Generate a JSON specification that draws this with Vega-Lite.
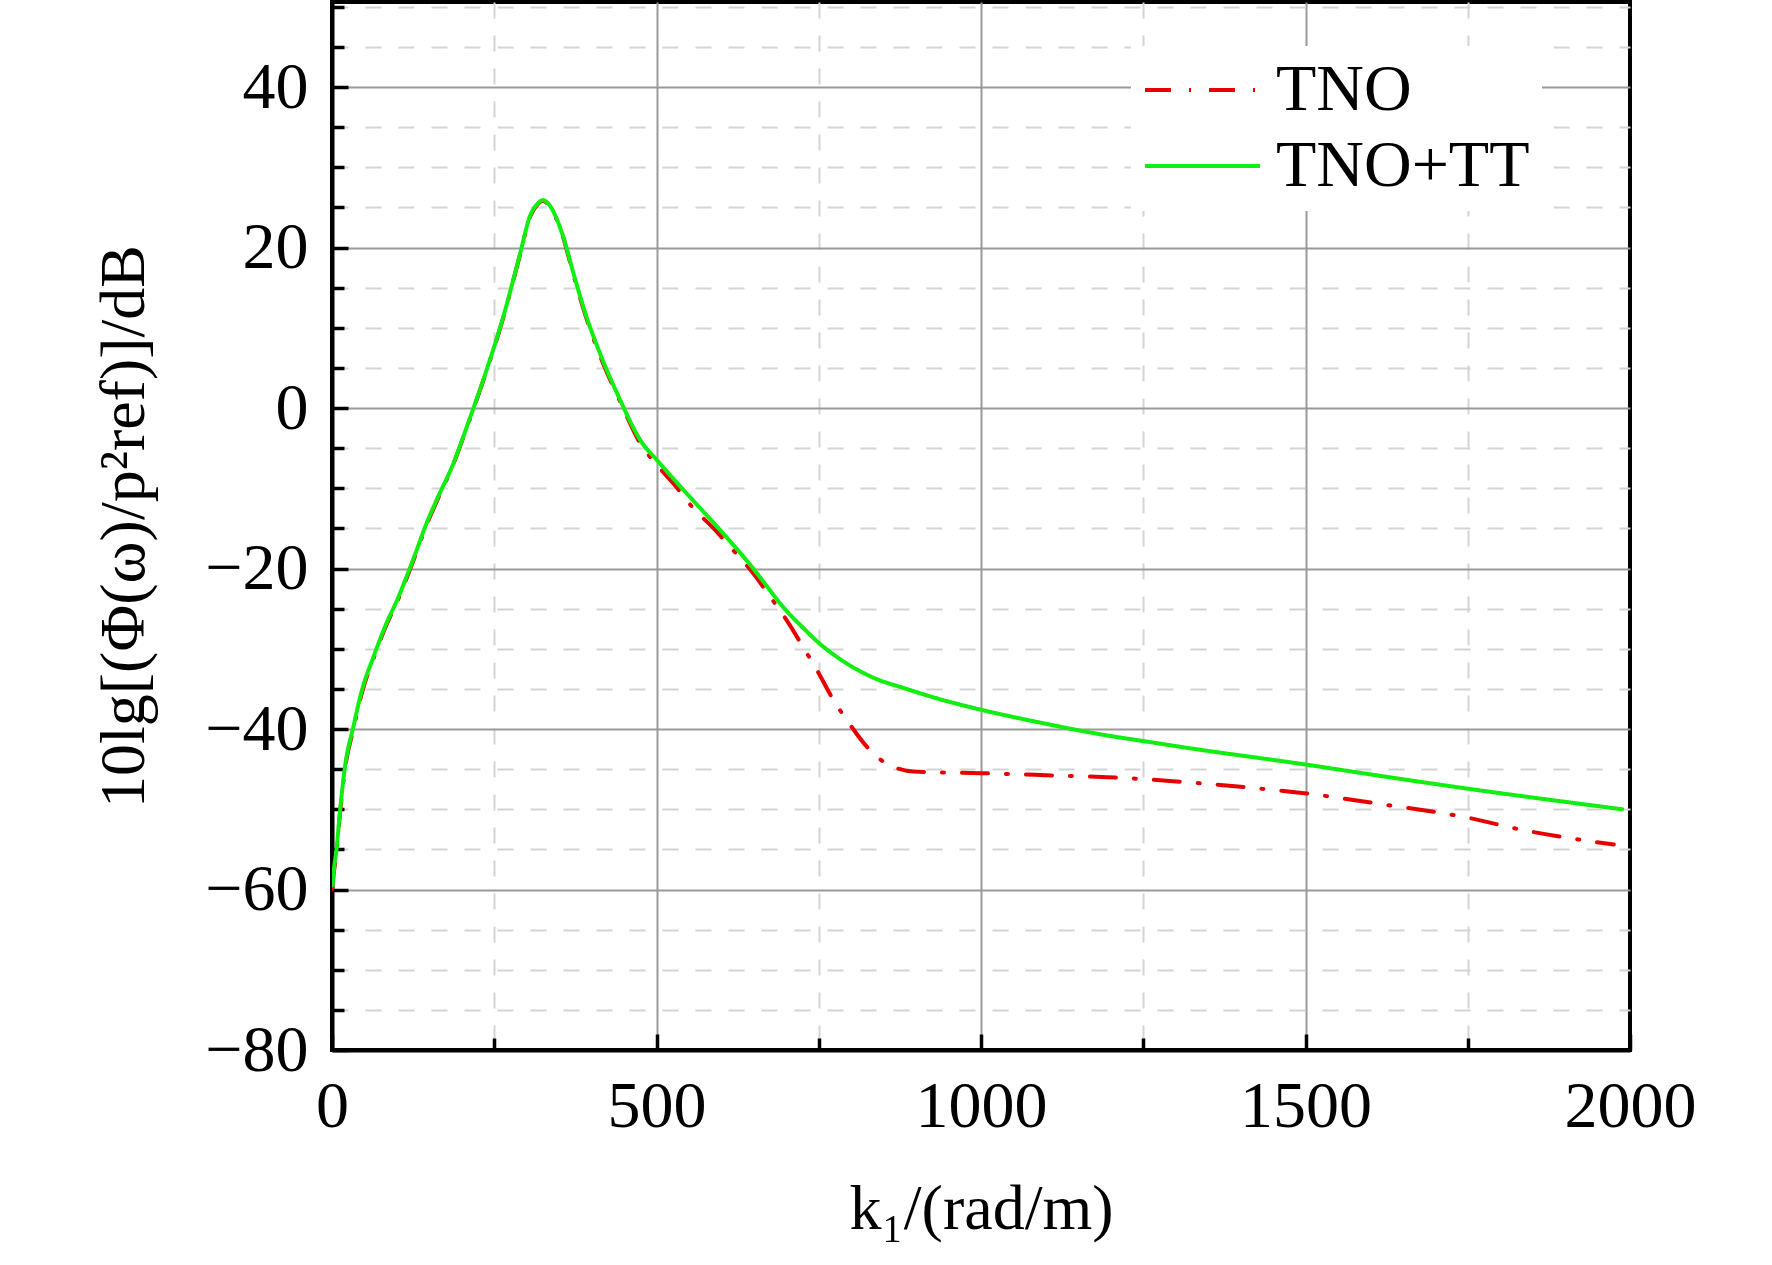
{
  "$schema": "https://vega.github.io/schema/vega-lite/v6.json",
  "autosize": {"type": "none"},
  "padding": {"left": 332, "top": 2, "right": 142, "bottom": 215},
  "width": 1298,
  "height": 1048,
  "background": "white",
  "config": {
    "view": {"stroke": "black", "strokeWidth": 4},
    "axis": {
      "labelFont": "Liberation Serif",
      "labelFontSize": 66,
      "labelColor": "black",
      "titleFont": "Liberation Serif",
      "titleFontSize": 64,
      "titleFontWeight": "normal",
      "titleColor": "black",
      "domainColor": "black",
      "domainWidth": 4,
      "tickColor": "black",
      "tickWidth": 3.5,
      "labelOverlap": false,
      "labelFlush": false
    }
  },
  "data": {
    "values": [
      {"series": "TNO", "k": 0, "v": -60.0},
      {"series": "TNO", "k": 3, "v": -57.8},
      {"series": "TNO", "k": 7, "v": -55.3},
      {"series": "TNO", "k": 12, "v": -50.8},
      {"series": "TNO", "k": 20, "v": -45.0},
      {"series": "TNO", "k": 33, "v": -40.0},
      {"series": "TNO", "k": 46, "v": -35.5},
      {"series": "TNO", "k": 64, "v": -31.2},
      {"series": "TNO", "k": 84, "v": -27.0},
      {"series": "TNO", "k": 100, "v": -24.2},
      {"series": "TNO", "k": 115, "v": -21.2},
      {"series": "TNO", "k": 130, "v": -18.0},
      {"series": "TNO", "k": 145, "v": -14.7},
      {"series": "TNO", "k": 161, "v": -11.7},
      {"series": "TNO", "k": 187, "v": -7.0},
      {"series": "TNO", "k": 203, "v": -3.5},
      {"series": "TNO", "k": 218, "v": -0.1},
      {"series": "TNO", "k": 238, "v": 4.6},
      {"series": "TNO", "k": 264, "v": 11.3},
      {"series": "TNO", "k": 290, "v": 19.2},
      {"series": "TNO", "k": 305, "v": 23.8},
      {"series": "TNO", "k": 316, "v": 25.3},
      {"series": "TNO", "k": 325, "v": 25.8},
      {"series": "TNO", "k": 333, "v": 25.4},
      {"series": "TNO", "k": 341, "v": 24.4},
      {"series": "TNO", "k": 356, "v": 21.3},
      {"series": "TNO", "k": 372, "v": 16.6},
      {"series": "TNO", "k": 392, "v": 11.2},
      {"series": "TNO", "k": 413, "v": 6.5},
      {"series": "TNO", "k": 444, "v": 0.8},
      {"series": "TNO", "k": 475, "v": -4.4},
      {"series": "TNO", "k": 503, "v": -7.3},
      {"series": "TNO", "k": 526, "v": -9.4},
      {"series": "TNO", "k": 557, "v": -12.5},
      {"series": "TNO", "k": 588, "v": -15.0},
      {"series": "TNO", "k": 618, "v": -17.7},
      {"series": "TNO", "k": 649, "v": -20.6},
      {"series": "TNO", "k": 675, "v": -23.5},
      {"series": "TNO", "k": 701, "v": -26.5},
      {"series": "TNO", "k": 726, "v": -29.8},
      {"series": "TNO", "k": 749, "v": -32.9},
      {"series": "TNO", "k": 772, "v": -36.3},
      {"series": "TNO", "k": 796, "v": -39.2},
      {"series": "TNO", "k": 824, "v": -42.2},
      {"series": "TNO", "k": 845, "v": -43.8},
      {"series": "TNO", "k": 862, "v": -44.6},
      {"series": "TNO", "k": 896, "v": -45.3},
      {"series": "TNO", "k": 1000, "v": -45.5},
      {"series": "TNO", "k": 1117, "v": -45.8},
      {"series": "TNO", "k": 1194, "v": -46.0},
      {"series": "TNO", "k": 1296, "v": -46.5},
      {"series": "TNO", "k": 1400, "v": -47.2},
      {"series": "TNO", "k": 1498, "v": -48.0},
      {"series": "TNO", "k": 1620, "v": -49.4},
      {"series": "TNO", "k": 1747, "v": -51.0},
      {"series": "TNO", "k": 1836, "v": -52.6},
      {"series": "TNO", "k": 1975, "v": -54.4},
      {"series": "TNO+TT", "k": 1, "v": -59.5},
      {"series": "TNO+TT", "k": 3, "v": -57.5},
      {"series": "TNO+TT", "k": 7, "v": -55.0},
      {"series": "TNO+TT", "k": 12, "v": -50.5},
      {"series": "TNO+TT", "k": 20, "v": -44.7},
      {"series": "TNO+TT", "k": 33, "v": -39.7},
      {"series": "TNO+TT", "k": 46, "v": -35.2},
      {"series": "TNO+TT", "k": 64, "v": -31.0},
      {"series": "TNO+TT", "k": 84, "v": -26.8},
      {"series": "TNO+TT", "k": 100, "v": -24.0},
      {"series": "TNO+TT", "k": 115, "v": -21.0},
      {"series": "TNO+TT", "k": 130, "v": -17.8},
      {"series": "TNO+TT", "k": 145, "v": -14.5},
      {"series": "TNO+TT", "k": 161, "v": -11.5},
      {"series": "TNO+TT", "k": 187, "v": -6.9},
      {"series": "TNO+TT", "k": 203, "v": -3.4},
      {"series": "TNO+TT", "k": 218, "v": 0.0},
      {"series": "TNO+TT", "k": 238, "v": 4.7},
      {"series": "TNO+TT", "k": 264, "v": 11.4},
      {"series": "TNO+TT", "k": 290, "v": 19.3},
      {"series": "TNO+TT", "k": 305, "v": 23.9},
      {"series": "TNO+TT", "k": 316, "v": 25.4},
      {"series": "TNO+TT", "k": 325, "v": 25.9},
      {"series": "TNO+TT", "k": 333, "v": 25.5},
      {"series": "TNO+TT", "k": 341, "v": 24.5},
      {"series": "TNO+TT", "k": 356, "v": 21.4},
      {"series": "TNO+TT", "k": 372, "v": 16.8},
      {"series": "TNO+TT", "k": 392, "v": 11.4},
      {"series": "TNO+TT", "k": 413, "v": 6.8},
      {"series": "TNO+TT", "k": 444, "v": 1.0},
      {"series": "TNO+TT", "k": 475, "v": -4.0},
      {"series": "TNO+TT", "k": 503, "v": -6.7},
      {"series": "TNO+TT", "k": 546, "v": -10.6},
      {"series": "TNO+TT", "k": 598, "v": -15.2},
      {"series": "TNO+TT", "k": 649, "v": -20.0},
      {"series": "TNO+TT", "k": 670, "v": -22.2},
      {"series": "TNO+TT", "k": 690, "v": -24.3},
      {"series": "TNO+TT", "k": 705, "v": -25.7},
      {"series": "TNO+TT", "k": 721, "v": -27.0},
      {"series": "TNO+TT", "k": 752, "v": -29.4},
      {"series": "TNO+TT", "k": 783, "v": -31.3},
      {"series": "TNO+TT", "k": 834, "v": -33.6},
      {"series": "TNO+TT", "k": 885, "v": -35.0},
      {"series": "TNO+TT", "k": 937, "v": -36.3},
      {"series": "TNO+TT", "k": 1000, "v": -37.6},
      {"series": "TNO+TT", "k": 1091, "v": -39.2},
      {"series": "TNO+TT", "k": 1194, "v": -40.8},
      {"series": "TNO+TT", "k": 1250, "v": -41.5},
      {"series": "TNO+TT", "k": 1322, "v": -42.4},
      {"series": "TNO+TT", "k": 1498, "v": -44.4},
      {"series": "TNO+TT", "k": 1620, "v": -45.9},
      {"series": "TNO+TT", "k": 1747, "v": -47.4},
      {"series": "TNO+TT", "k": 1988, "v": -50.0}
    ]
  },
  "mark": {"type": "line", "strokeWidth": 4, "interpolate": "monotone", "strokeCap": "round", "clip": true},
  "encoding": {
    "x": {
      "field": "k",
      "type": "quantitative",
      "scale": {"domain": [0, 2000], "nice": false, "zero": false},
      "axis": {
        "title": "k₁/(rad/m)",
        "values": [0, 250, 500, 750, 1000, 1250, 1500, 1750, 2000],
        "format": "d",
        "labelExpr": "datum.value % 500 === 0 ? datum.label : ''",
        "labelPadding": 40,
        "titlePadding": 34,
        "tickSize": {"condition": {"test": "datum.value % 500 === 0", "value": -16}, "value": -12},
        "grid": true,
        "gridColor": {"condition": {"test": "datum.value % 500 === 0", "value": "#9a9a9a"}, "value": "#d4d4d4"},
        "gridDash": {"condition": {"test": "datum.value % 500 === 0", "value": []}, "value": [16, 17]},
        "gridWidth": 2,
        "gridOpacity": {"condition": {"test": "datum.value === 2000 || datum.value === 0", "value": 0}, "value": 1}
      }
    },
    "y": {
      "field": "v",
      "type": "quantitative",
      "scale": {"domain": [-80, 50.6], "nice": false, "zero": false},
      "axis": {
        "title": "10lg[(Φ(ω)/p²ref)]/dB",
        "values": [-80, -75, -70, -65, -60, -55, -50, -45, -40, -35, -30, -25, -20, -15, -10, -5, 0, 5, 10, 15, 20, 25, 30, 35, 40, 45, 50],
        "format": "d",
        "labelExpr": "datum.value % 20 === 0 ? datum.label : ''",
        "labelPadding": 40,
        "titlePadding": 48,
        "tickSize": {"condition": {"test": "datum.value % 20 === 0", "value": -16}, "value": -12},
        "grid": true,
        "gridColor": {"condition": {"test": "datum.value % 20 === 0", "value": "#9a9a9a"}, "value": "#d4d4d4"},
        "gridDash": {"condition": {"test": "datum.value % 20 === 0", "value": []}, "value": [16, 17]},
        "gridWidth": 2,
        "gridOpacity": {"condition": {"test": "datum.value === -80", "value": 0}, "value": 1}
      }
    },
    "color": {
      "field": "series",
      "type": "nominal",
      "scale": {"domain": ["TNO", "TNO+TT"], "range": ["#e80000", "#11ee11"]},
      "legend": {
        "title": null,
        "orient": "none",
        "legendX": 799,
        "legendY": 44,
        "labelFont": "Liberation Serif",
        "labelFontSize": 66,
        "labelColor": "black",
        "labelLimit": 500,
        "symbolType": "stroke",
        "symbolSize": 13225,
        "symbolStrokeWidth": 4,
        "clipHeight": 64,
        "labelOffset": 14,
        "rowPadding": 10,
        "padding": 12,
        "fillColor": "white"
      }
    },
    "strokeDash": {
      "field": "series",
      "type": "nominal",
      "scale": {"domain": ["TNO", "TNO+TT"], "range": [[26, 18, 2, 18], [1, 0]]},
      "legend": {
        "title": null,
        "orient": "none",
        "legendX": 799,
        "legendY": 44,
        "labelFont": "Liberation Serif",
        "labelFontSize": 66,
        "labelColor": "black",
        "labelLimit": 500,
        "symbolType": "stroke",
        "symbolSize": 13225,
        "symbolStrokeWidth": 4,
        "clipHeight": 64,
        "labelOffset": 14,
        "rowPadding": 10,
        "padding": 12,
        "fillColor": "white"
      }
    }
  }
}
